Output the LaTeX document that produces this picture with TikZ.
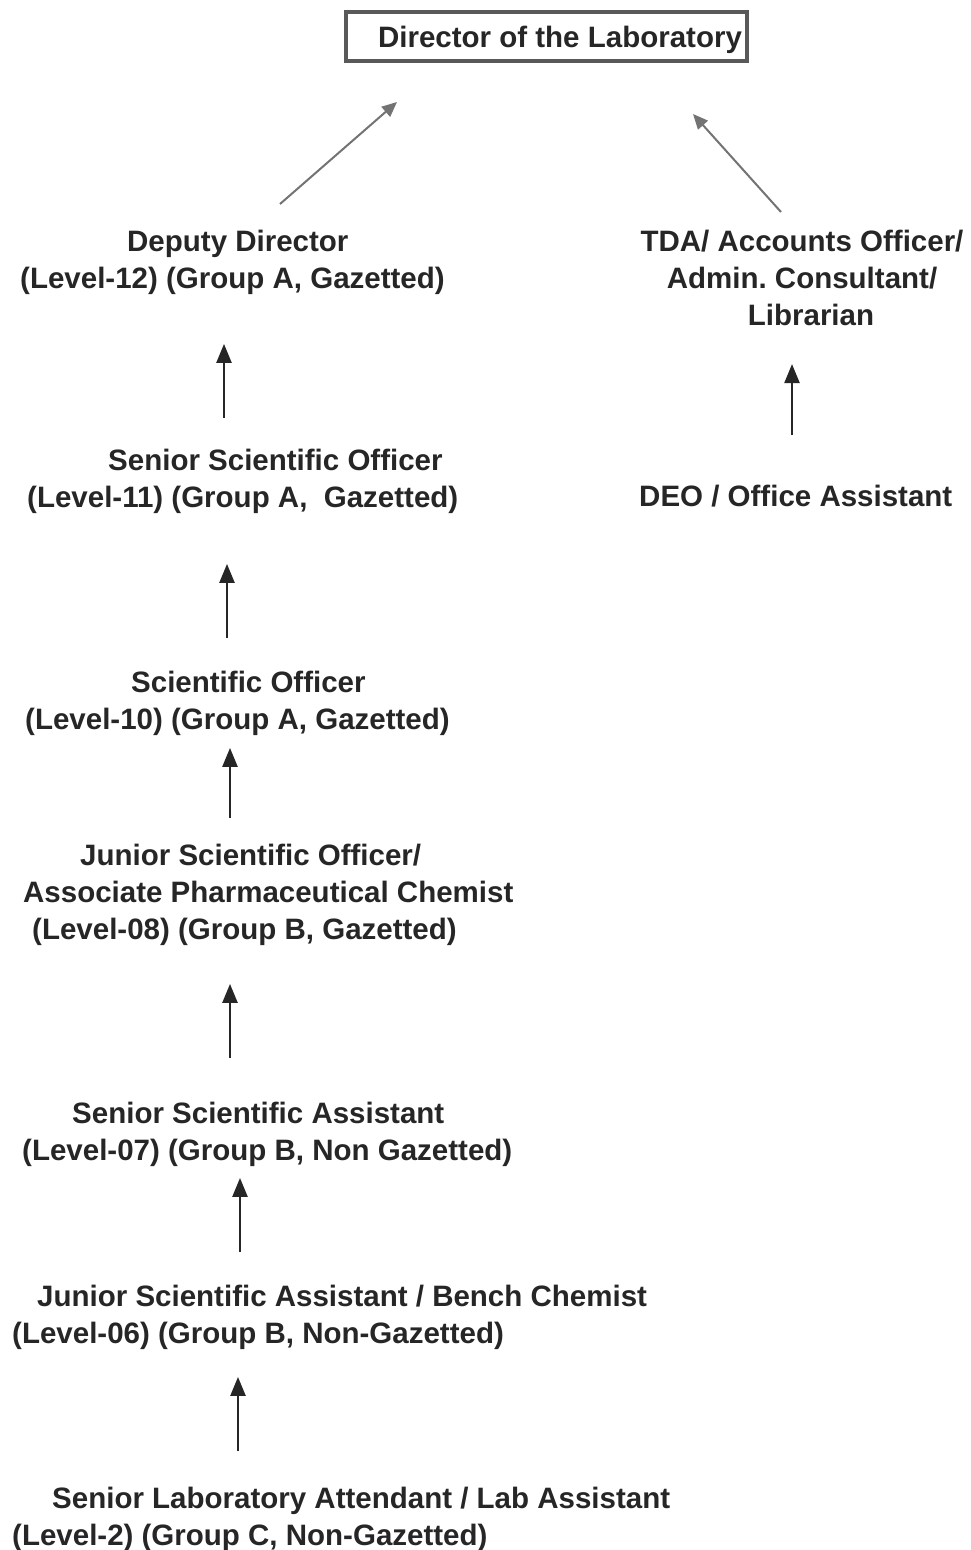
\documentclass[tikz,border=0pt]{standalone}
\usepackage{fontspec}
\setmainfont{Liberation Sans}
\usetikzlibrary{arrows.meta}
\frenchspacing

\tikzset{
	post/.style={inner sep=0pt, anchor=north west, align=left, text=black!85},
	up/.style={-{Triangle[length=19pt,width=15pt]}, line width=2.4pt, draw=black!85},
	diag/.style={-{Triangle[length=15pt,width=13pt]}, line width=2pt, draw=black!55}
}

\begin{document}
\begin{tikzpicture}[x=1pt, y=-1pt,
	font=\bfseries\fontsize{29.5}{37}\selectfont]
	\useasboundingbox (0,0) rectangle (971,1550);
	% head of the laboratory
	\node[draw=black!65, line width=4pt, inner sep=0pt, text=black!85,
		minimum width=401pt, minimum height=49pt] (dir) at (546.5,36.5)
		{\hspace*{27pt}\raisebox{-10.5pt}[0pt][0pt]{Director of the Laboratory}};
	% scientific side
	\node[post] (dep) at (20,230) {\hspace*{107pt}Deputy Director\\(Level-12) (Group A, Gazetted)};
	\node[post] (sso) at (27,449) {\hspace*{81pt}Senior Scientific Officer\\(Level-11) (Group A,\ \ Gazetted)};
	\node[post] (so) at (25,671) {\hspace*{106pt}Scientific Officer\\(Level-10) (Group A, Gazetted)};
	\node[post] (jso) at (23,844) {\hspace*{57pt}Junior Scientific Officer/\\Associate Pharmaceutical Chemist\\\hspace*{9pt}(Level-08) (Group B, Gazetted)};
	\node[post] (ssa) at (22,1102) {\hspace*{50pt}Senior Scientific Assistant\\(Level-07) (Group B, Non Gazetted)};
	\node[post] (jsa) at (12,1285) {\hspace*{25pt}Junior Scientific Assistant / Bench Chemist\\(Level-06) (Group B, Non-Gazetted)};
	\node[post] (sla) at (12,1487) {\hspace*{40pt}Senior Laboratory Attendant / Lab Assistant\\(Level-2) (Group C, Non-Gazetted)};
	% admin side
	\node[post, anchor=north, align=center] (tda) at (802,230) {TDA/ Accounts Officer/\\Admin. Consultant/\\\hspace*{18pt}Librarian};
	\node[post] (deo) at (639,485) {DEO / Office Assistant};

	\draw[diag] ([shift={(260,-26)}]dep.north west) -- ([shift={(-149.5,39)}]dir.south);
	\draw[diag] ([shift={(-21,-18)}]tda.north) -- ([shift={(146.5,51)}]dir.south);
	\draw[up] ([shift={(197,-31)}]sso.north west) -- ([shift={(204,49)}]dep.south west);
	\draw[up] ([shift={(153,-50)}]deo.north west) -- ([shift={(-10,38)}]tda.south);
	\draw[up] ([shift={(202,-33)}]so.north west) -- ([shift={(200,50)}]sso.south west);
	\draw[up] ([shift={(207,-26)}]jso.north west) -- ([shift={(205,12)}]so.south west);
	\draw[up] ([shift={(208,-44)}]ssa.north west) -- ([shift={(207,38)}]jso.south west);
	\draw[up] ([shift={(228,-33)}]jsa.north west) -- ([shift={(218,11)}]ssa.south west);
	\draw[up] ([shift={(226,-36)}]sla.north west) -- ([shift={(226,27)}]jsa.south west);
\end{tikzpicture}
\end{document}
